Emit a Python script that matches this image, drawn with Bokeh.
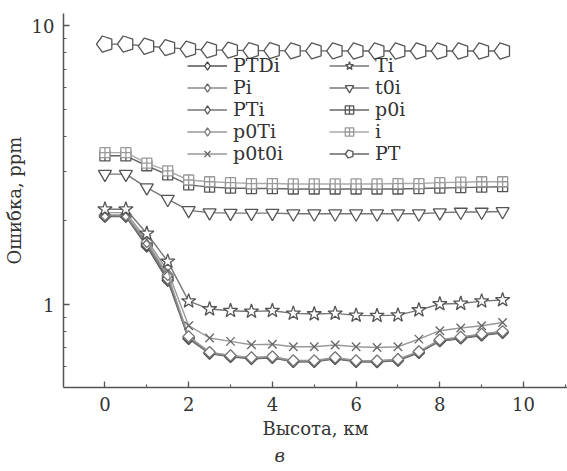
import numpy as np
from bokeh.plotting import figure
from bokeh.models import (Legend, LegendItem, SingleIntervalTicker, FixedTicker,
                          Title, Range1d, PrintfTickFormatter, ColumnDataSource)
from bokeh.embed import file_html
from bokeh.resources import INLINE

# ---------------- data ----------------
heights = [0.0, 0.5, 1.0, 1.5, 2.0, 2.5, 3.0, 3.5, 4.0, 4.5,
           5.0, 5.5, 6.0, 6.5, 7.0, 7.5, 8.0, 8.5, 9.0, 9.5]

PTDi = [2.07, 2.07, 1.62, 1.22, 0.755, 0.668, 0.650, 0.640, 0.645, 0.624,
        0.624, 0.640, 0.624, 0.623, 0.631, 0.672, 0.740, 0.757, 0.776, 0.793]
Pi = [2.09, 2.09, 1.66, 1.26, 0.765, 0.674, 0.656, 0.645, 0.650, 0.629,
      0.629, 0.645, 0.629, 0.628, 0.636, 0.678, 0.747, 0.764, 0.783, 0.800]
PTi = [2.08, 2.08, 1.64, 1.24, 0.760, 0.671, 0.653, 0.642, 0.647, 0.626,
       0.626, 0.642, 0.626, 0.625, 0.633, 0.675, 0.743, 0.760, 0.779, 0.796]
p0Ti = [2.10, 2.10, 1.68, 1.28, 0.770, 0.676, 0.658, 0.647, 0.652, 0.631,
        0.631, 0.647, 0.631, 0.630, 0.638, 0.680, 0.750, 0.767, 0.786, 0.803]
p0t0i = [2.14, 2.14, 1.71, 1.32, 0.841, 0.760, 0.739, 0.719, 0.722, 0.707,
         0.707, 0.717, 0.707, 0.703, 0.707, 0.753, 0.807, 0.825, 0.841, 0.864]
Ti = [2.20, 2.20, 1.80, 1.43, 1.03, 0.965, 0.952, 0.946, 0.952, 0.931,
      0.926, 0.931, 0.916, 0.914, 0.918, 0.957, 1.006, 1.01, 1.03, 1.04]
t0i = [2.94, 2.94, 2.63, 2.39, 2.18, 2.14, 2.13, 2.13, 2.13, 2.12,
       2.12, 2.12, 2.12, 2.12, 2.12, 2.12, 2.14, 2.15, 2.15, 2.16]
p0i = [3.42, 3.42, 3.15, 2.92, 2.69, 2.64, 2.62, 2.61, 2.61, 2.60,
       2.60, 2.60, 2.60, 2.60, 2.60, 2.61, 2.62, 2.63, 2.64, 2.65]
i_ser = [3.51, 3.51, 3.22, 3.02, 2.80, 2.76, 2.74, 2.72, 2.72, 2.71,
         2.71, 2.71, 2.71, 2.71, 2.72, 2.72, 2.74, 2.75, 2.76, 2.76]
PT = [8.60, 8.60, 8.45, 8.35, 8.25, 8.20, 8.18, 8.15, 8.15, 8.13,
      8.13, 8.13, 8.12, 8.12, 8.12, 8.12, 8.12, 8.12, 8.12, 8.12]

y_major_ticks = [1, 10]
y_minor_ticks = [0.6, 0.7, 0.8, 0.9, 2, 3, 4, 5, 6, 7, 8, 9]
x_label = "Высота, км"
y_label = "Ошибка, ppm"
caption = "в"

FONT = "DejaVu Serif"
TXT = "#333333"

p = figure(width=567, height=471, y_axis_type="log",
           x_range=Range1d(-0.99, 11.05), y_range=Range1d(0.505, 11.07),
           output_backend="svg", toolbar_location=None,
           min_border_left=61, min_border_right=0,
           min_border_top=13, min_border_bottom=84)
p.outline_line_color = None
p.xgrid.visible = False
p.ygrid.visible = False
p.background_fill_color = "white"
p.border_fill_color = "white"

# axes
for ax in (p.xaxis[0], p.yaxis[0]):
    ax.axis_line_color = "#555555"
    ax.axis_line_width = 1.5
    ax.major_tick_line_color = "#555555"
    ax.minor_tick_line_color = "#555555"
    ax.major_tick_line_width = 1.3
    ax.minor_tick_line_width = 1.1
    ax.major_tick_in = 6
    ax.major_tick_out = 0
    ax.minor_tick_in = 3
    ax.minor_tick_out = 0
    ax.major_label_text_font = FONT
    ax.major_label_text_font_size = "18px"
    ax.major_label_text_color = TXT
    ax.axis_label_text_font = FONT
    ax.axis_label_text_font_size = "18px"
    ax.axis_label_text_font_style = "normal"
    ax.axis_label_text_color = TXT

p.xaxis.ticker = SingleIntervalTicker(interval=2, num_minor_ticks=2)
p.xaxis.major_label_standoff = 9
p.xaxis.axis_label = x_label
p.xaxis.axis_label_standoff = 4
p.yaxis.ticker = FixedTicker(ticks=y_major_ticks, minor_ticks=y_minor_ticks)
p.yaxis.formatter = PrintfTickFormatter(format="%d")
p.yaxis.major_label_standoff = 9
p.yaxis.axis_label = y_label
p.yaxis.axis_label_standoff = 4

diamond = dict(marker="square", size=8, angle=np.pi / 4)
series = [
    ("PTDi", PTDi, diamond, "#555555", "#444444"),
    ("Pi", Pi, diamond, "#8a8a8a", "#666666"),
    ("PTi", PTi, diamond, "#777777", "#555555"),
    ("p0Ti", p0Ti, diamond, "#999999", "#777777"),
    ("p0t0i", p0t0i, dict(marker="x", size=12), "#999999", "#666666"),
    ("Ti", Ti, dict(marker="star", size=15), "#777777", "#555555"),
    ("t0i", t0i, dict(marker="inverted_triangle", size=13), "#777777", "#555555"),
    ("p0i", p0i, dict(marker="square_cross", size=10), "#666666", "#555555"),
    ("i", i_ser, dict(marker="square_cross", size=10), "#aaaaaa", "#999999"),
    ("PT", PT, None, "#666666", "#555555"),
]

items = {}
for name, vals, mk, lc, mc in series:
    src = ColumnDataSource(data=dict(x=heights, y=vals))
    lr = p.line("x", "y", source=src, line_color=lc, line_width=1.4)
    if mk is not None:
        mr = p.scatter("x", "y", source=src, fill_color="white", line_color=mc,
                       line_width=1.3, **mk)
        if mk.get("angle") is not None:
            # legend-only proxy glyph: the legend does not apply marker rotation,
            # so a diamond marker without position (NaN) stands in for it
            proxy = ColumnDataSource(data=dict(x=[np.nan], y=[np.nan]))
            leg_r = p.scatter("x", "y", source=proxy, marker="diamond", size=12,
                              fill_color="white", line_color=mc, line_width=1.3)
            renderers = [lr, leg_r]
        else:
            renderers = [lr, mr]
    else:
        if hasattr(p, "ngon"):
            mr = p.ngon("x", "y", source=src, radius=8.5, radius_units="screen", n=5,
                        angle=np.pi / 2, fill_color="white", line_color=mc,
                        line_width=1.3)
        else:
            mr = p.scatter("x", "y", source=src, marker="hex", size=16,
                           fill_color="white", line_color=mc, line_width=1.3)
        renderers = [lr, mr]
    items[name] = LegendItem(label=name, renderers=renderers)

def make_legend(names, loc):
    lg = Legend(items=[items[n] for n in names], location=loc,
                orientation="vertical", padding=0, margin=0, spacing=0,
                border_line_color=None, background_fill_alpha=0,
                glyph_width=40, glyph_height=21, label_height=21,
                label_standoff=6, label_text_font=FONT,
                label_text_font_size="19px", label_text_color=TXT)
    return lg

p.add_layout(make_legend(["PTDi", "Pi", "PTi", "p0Ti", "p0t0i"], (124, 223)), "center")
p.add_layout(make_legend(["Ti", "t0i", "p0i", "i", "PT"], (266, 223)), "center")

cap = Title(text=caption, align="left", offset=211, standoff=2,
            text_font=FONT, text_font_style="italic", text_font_size="18px",
            text_color=TXT)
p.add_layout(cap, "below")

open("out.html", "w").write(file_html(p, INLINE))
